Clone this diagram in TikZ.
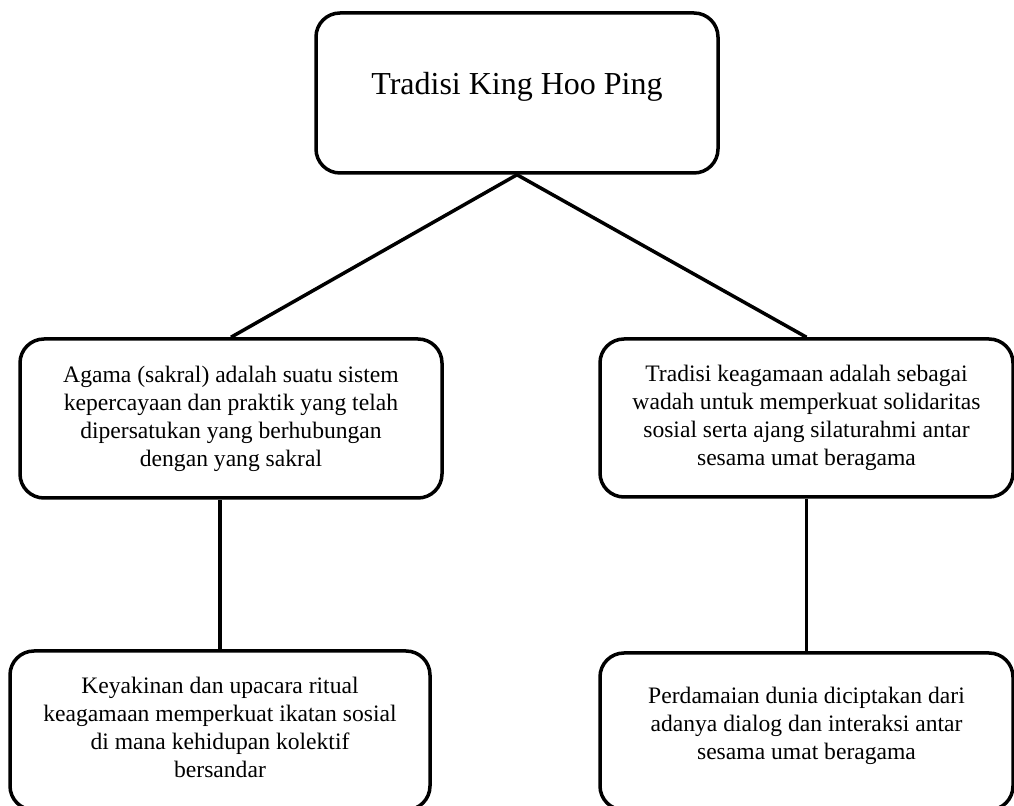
\documentclass[tikz,border=0pt]{standalone}
\usepackage{fontspec}
\setmainfont{Liberation Serif}

\begin{document}
\begin{tikzpicture}[x=0.5pt,y=-0.5pt,
	box/.style={draw, line width=1.75pt, rounded corners=12pt, align=center,
		font=\fontsize{11.8}{14}\selectfont, inner sep=0pt},
	link/.style={line width=1.75pt}]
	\useasboundingbox (0,0) rectangle (1014,806);

	\node[box, minimum width=201pt, minimum height=80pt, font=\fontsize{16}{19}\selectfont] (tradisi) at (517,93) {Tradisi King Hoo Ping\\[-9pt]};

	\node[box, minimum width=211pt, minimum height=79.5pt] (agama) at (231,418.5) {Agama (sakral) adalah suatu sistem\\ kepercayaan dan praktik yang telah\\ dipersatukan yang berhubungan\\ dengan yang sakral};
	\node[box, minimum width=206.5pt, minimum height=79pt] (wadah) at (806.5,418) {Tradisi keagamaan adalah sebagai\\ wadah untuk memperkuat solidaritas\\ sosial serta ajang silaturahmi antar\\ sesama umat beragama};

	\node[box, minimum width=210pt, minimum height=79.5pt] (ritual) at (220,730.5) {Keyakinan dan upacara ritual\\ keagamaan memperkuat ikatan sosial\\ di mana kehidupan kolektif\\ bersandar\\[-10.5pt]};
	\node[box, minimum width=206.5pt, minimum height=78.5pt] (damai) at (806.5,731.5) {Perdamaian dunia diciptakan dari\\ adanya dialog dan interaksi antar\\ sesama umat beragama\\[-5.5pt]};

	\draw[link] (agama.north) -- (tradisi.south) -- (wadah.north);
	\draw[link] (ritual.north) -- (ritual.north |- agama.south);
	\draw[link] (wadah.south) -- (damai.north);
\end{tikzpicture}
\end{document}
